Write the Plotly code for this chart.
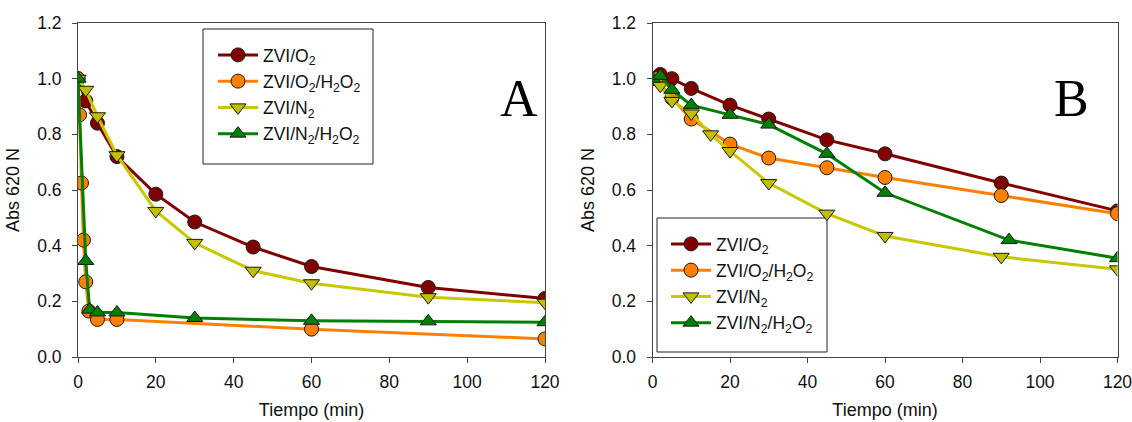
import plotly.graph_objects as go

# ---- Data (panel A) ----
a_t_o2 = [0, 2, 5, 10, 20, 30, 45, 60, 90, 120]
a_o2 = [1.0, 0.92, 0.84, 0.72, 0.585, 0.485, 0.395, 0.325, 0.25, 0.21]
a_t_o2h = [0, 0.4, 0.9, 1.4, 2, 2.8, 5, 10, 60, 120]
a_o2h = [1.0, 0.87, 0.625, 0.42, 0.27, 0.165, 0.135, 0.135, 0.10, 0.065]
a_t_n2 = [0, 2, 5, 10, 20, 30, 45, 60, 90, 120]
a_n2 = [1.0, 0.96, 0.865, 0.725, 0.525, 0.41, 0.31, 0.265, 0.215, 0.195]
a_t_n2h = [0, 2, 3, 5, 10, 30, 60, 90, 120]
a_n2h = [1.0, 0.345, 0.17, 0.16, 0.16, 0.14, 0.13, 0.128, 0.125]

# ---- Data (panel B) ----
b_t_o2 = [0, 2, 5, 10, 20, 30, 45, 60, 90, 120]
b_o2 = [1.0, 1.015, 1.0, 0.965, 0.905, 0.855, 0.78, 0.73, 0.625, 0.525]
b_t_o2h = [0, 1, 5, 10, 20, 30, 45, 60, 90, 120]
b_o2h = [1.0, 1.0, 0.93, 0.855, 0.765, 0.715, 0.68, 0.645, 0.58, 0.515]
b_t_n2 = [0, 2, 5, 10, 15, 20, 30, 45, 60, 90, 120]
b_n2 = [1.0, 0.975, 0.92, 0.875, 0.80, 0.74, 0.625, 0.515, 0.435, 0.36, 0.315]
b_t_n2h = [0, 2, 5, 10, 20, 30, 45, 60, 92, 120]
b_n2h = [1.0, 1.01, 0.96, 0.905, 0.87, 0.835, 0.73, 0.59, 0.42, 0.355]

names = ["ZVI/O<sub>2</sub>", "ZVI/O<sub>2</sub>/H<sub>2</sub>O<sub>2</sub>",
         "ZVI/N<sub>2</sub>", "ZVI/N<sub>2</sub>/H<sub>2</sub>O<sub>2</sub>"]
line_colors = ["#800000", "#FF8000", "#C8C800", "#008000"]
fill_colors = ["#800000", "#FF8000", "#C0C000", "#008000"]
symbols = ["circle", "circle", "triangle-down", "triangle-up"]

W, H = 1132, 422


def px(x):
    return x / W


def py(y):
    return 1 - y / H


fig = go.Figure()

panels = [
    ("x", "y", "legend", [(a_t_o2, a_o2), (a_t_o2h, a_o2h), (a_t_n2, a_n2), (a_t_n2h, a_n2h)]),
    ("x2", "y2", "legend2", [(b_t_o2, b_o2), (b_t_o2h, b_o2h), (b_t_n2, b_n2), (b_t_n2h, b_n2h)]),
]
for xa, ya, lg, series in panels:
    for i, (t, v) in enumerate(series):
        fig.add_trace(go.Scatter(
            x=t, y=v, xaxis=xa, yaxis=ya, mode="lines+markers",
            name=names[i], legend=lg, legendgroup=f"{lg}{i}",
            line=dict(color=line_colors[i], width=3),
            marker=dict(symbol=symbols[i], size=14, color=fill_colors[i],
                        line=dict(color="#1a1a1a", width=1)),
        ))

FONT = "Liberation Sans, Arial"
axis_common = dict(
    showgrid=False, zeroline=False, showline=True, linecolor="#444444", linewidth=1,
    mirror=True, ticks="outside", ticklen=5, tickcolor="#444444", automargin=False,
    tickfont=dict(family=FONT, size=17.5, color="#111111"),
    title_font=dict(family=FONT, size=18, color="#111111"),
)
xaxis_common = dict(range=[0, 120], dtick=20, ticklabelstandoff=4, ticklabeloverflow="allow",
                    title=dict(text="Tiempo (min)", standoff=12), **axis_common)
yaxis_common = dict(range=[0, 1.2], dtick=0.2, tickformat=".1f", ticklabelstandoff=7,
                    title=dict(text="Abs 620 N", standoff=12), **axis_common)

Y0, Y1 = py(357), py(23)

legend_common = dict(xanchor="left", yanchor="top", borderwidth=0,
                     bgcolor="rgba(0,0,0,0)", itemwidth=40,
                     font=dict(family=FONT, size=17.5, color="#111111"),
                     tracegroupgap=0.5)

# legend frames (x0, y0, x1, y1 in window pixels)
box_a = (203, 29, 373, 164)
box_b = (657, 218, 827, 352)

fig.update_layout(
    width=W, height=H,
    margin=dict(l=0, r=0, t=0, b=0),
    paper_bgcolor="white", plot_bgcolor="white",
    showlegend=True,
    xaxis=dict(domain=[px(78), px(545)], anchor="y", **xaxis_common),
    yaxis=dict(domain=[Y0, Y1], anchor="x", **yaxis_common),
    xaxis2=dict(domain=[px(652.5), px(1117.5)], anchor="y2", **xaxis_common),
    yaxis2=dict(domain=[Y0, Y1], anchor="x2", **yaxis_common),
    legend=dict(x=px(box_a[0] + 10), y=py(box_a[1] + 8), **legend_common),
    legend2=dict(x=px(box_b[0] + 9), y=py(box_b[1] + 8), **legend_common),
    shapes=[
        dict(type="rect", xref="paper", yref="paper", layer="below",
             x0=px(b[0]), x1=px(b[2]), y0=py(b[3]), y1=py(b[1]),
             line=dict(color="#222222", width=1), fillcolor="rgba(0,0,0,0)")
        for b in (box_a, box_b)
    ],
    annotations=[
        dict(text="A", x=px(518.5), y=py(68), xref="paper", yref="paper",
             showarrow=False, font=dict(family="Liberation Serif, Times New Roman", size=52, color="black")),
        dict(text="B", x=px(1091), y=py(68), xref="paper", yref="paper",
             showarrow=False, font=dict(family="Liberation Serif, Times New Roman", size=52, color="black")),
    ],
)

fig.write_html(
    "out.html",
    config={"displayModeBar": False},
    post_script="document.body.style.margin='0';document.body.style.overflow='hidden';",
)
